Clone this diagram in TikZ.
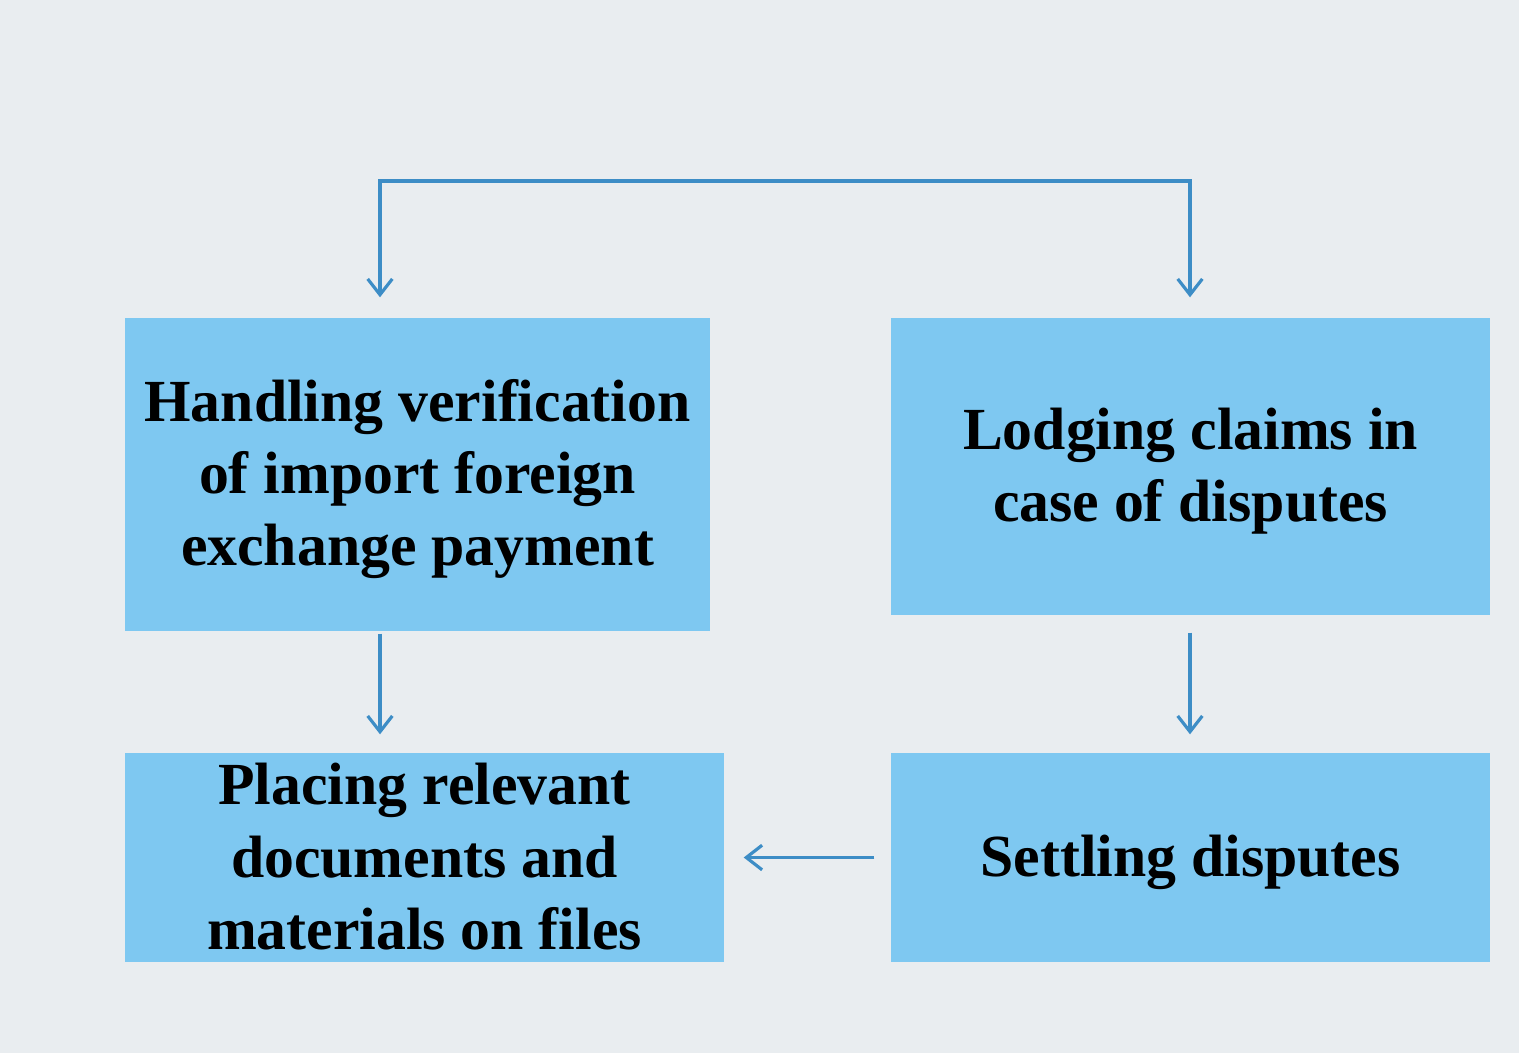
\documentclass[tikz,border=0pt]{standalone}
\usepackage{fontspec}
\setmainfont{Liberation Serif}
\usetikzlibrary{arrows.meta, positioning, calc}
\definecolor{bgcol}{HTML}{E9EDF0}
\definecolor{boxcol}{HTML}{7EC8F1}
\definecolor{linecol}{HTML}{3D8DC6}
\newcommand{\firstht}{\rule{0pt}{14.6pt}}
\newcommand{\lastdp}{\rule[-3.5pt]{0pt}{3.5pt}}

\begin{document}
\begin{tikzpicture}[
    >={Straight Barb[length=4.5pt,width=7pt]},
    box/.style={rectangle, fill=boxcol, align=center, inner sep=0pt,
        font=\bfseries\fontsize{17}{20.5}\selectfont},
    arr/.style={draw=linecol, line width=0.9pt, ->}
    ]
            \fill[bgcol] (0,0) rectangle (15.19,-10.53);
            \useasboundingbox (0,0) rectangle (15.19,-10.53);
            \draw (4.175,-4.745) node[box, minimum width=5.85cm, minimum height=3.13cm] (hv) {\firstht Handling verification\\of import foreign\\exchange payment\lastdp};
            \draw (11.905,-4.665) node[box, minimum width=5.99cm, minimum height=2.97cm] (lc) {\firstht Lodging claims in\\case of disputes\lastdp};
            \draw (4.245,-8.575) node[box, minimum width=5.99cm, minimum height=2.09cm] (pr) {\firstht Placing relevant\\documents and\\materials on files\lastdp};
            \draw (11.905,-8.575) node[box, minimum width=5.99cm, minimum height=2.09cm] (sd) {\firstht Settling disputes\lastdp};
            \coordinate (tl) at (3.8,-1.81);
            \coordinate (tr) at (11.9,-1.81);
            \draw[arr, <->, shorten <=0.2cm, shorten >=0.2cm]
            (tl |- hv.north) -- (tl) -- (tr) -- (tr |- lc.north);
            \draw[arr, shorten <=0.02cm, shorten >=0.18cm] (tl |- hv.south) -- (tl |- pr.north);
            \draw[arr, shorten <=0.17cm, shorten >=0.18cm] (tr |- lc.south) -- (tr |- sd.north);
            \draw[arr, shorten <=0.16cm, shorten >=0.19cm] (sd.west) -- (pr.east);
        \end{tikzpicture}
\end{document}
